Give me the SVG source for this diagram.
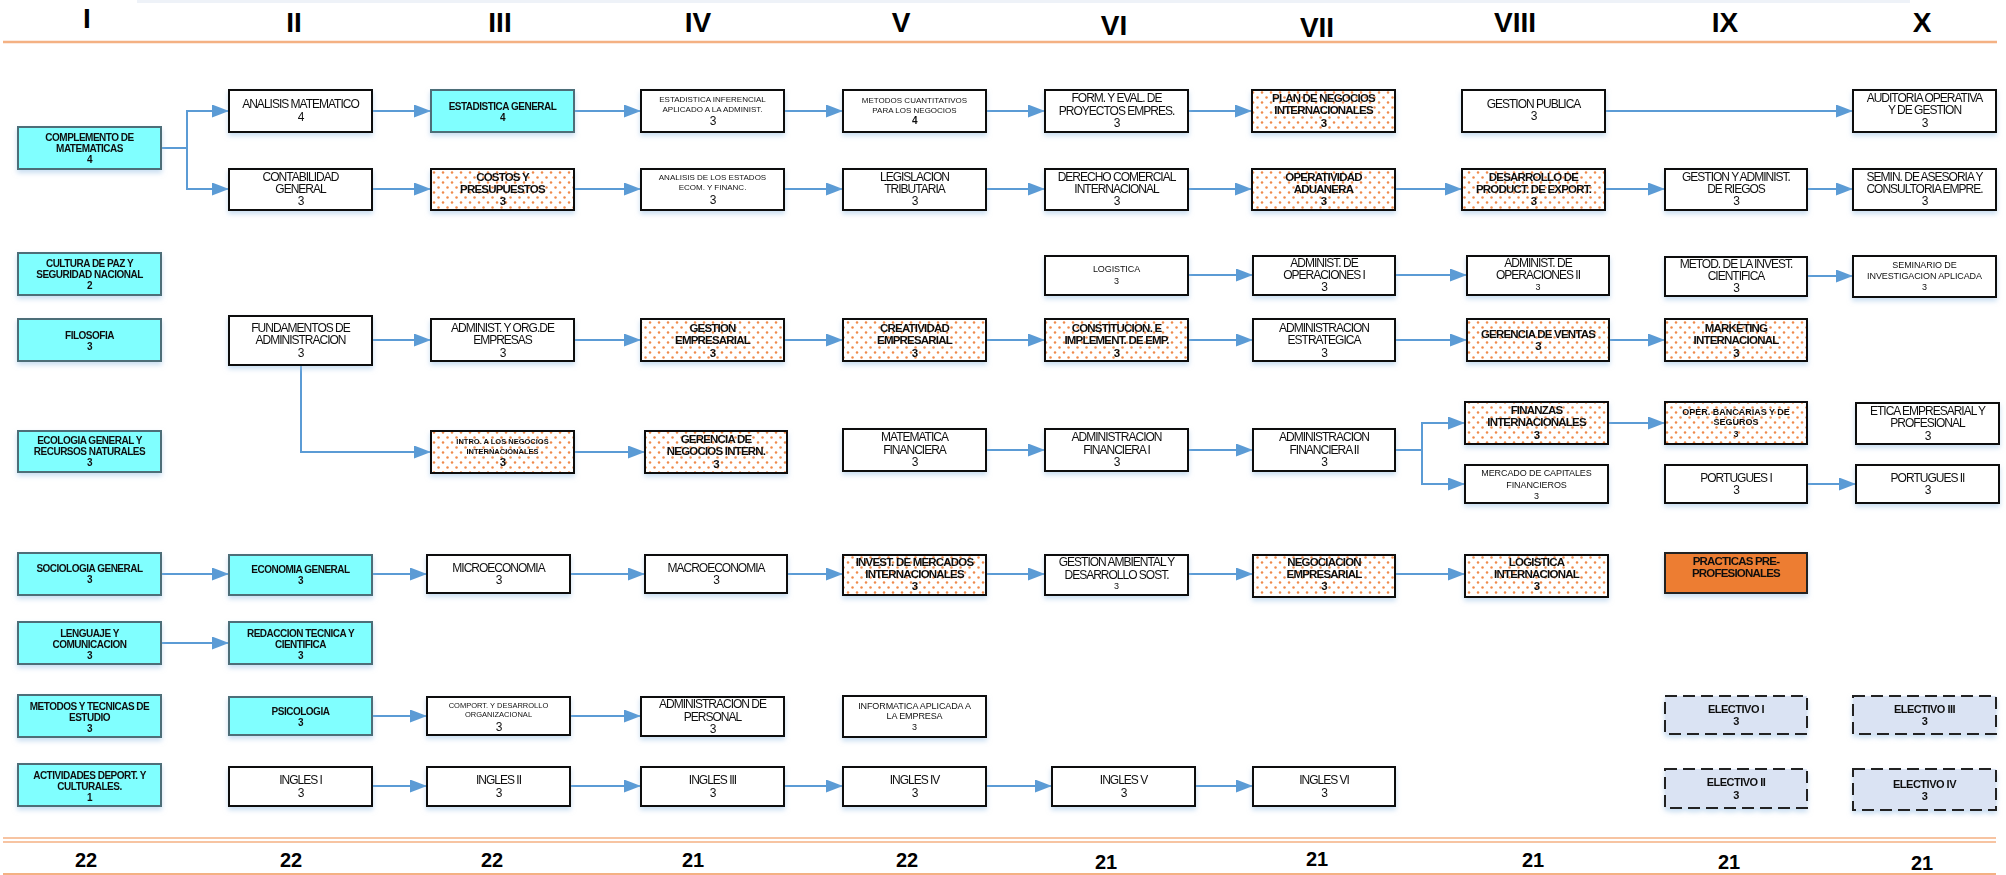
<svg xmlns="http://www.w3.org/2000/svg" width="2006" height="875" viewBox="0 0 2006 875">
<defs>
<style>
text{font-family:"Liberation Sans",Arial,sans-serif;text-anchor:middle;dominant-baseline:central;fill:#111}
.node{filter:url(#sh)}
.node rect{stroke-width:2}
.cy rect{fill:#80FFFF;stroke:#4E6E78}
.wh rect{fill:#fff;stroke:#111}
.dt rect{fill:url(#dots);stroke:#111}
.pr rect{fill:#ED7D31;stroke:#222}
.el rect{fill:#DAE3F3;stroke:#222;stroke-dasharray:12 6}
.r{font-size:12px;letter-spacing:-1px}
.s{font-size:8px}
.m{font-size:9px;letter-spacing:-0.1px}
.xs{font-size:7.5px}
.xsb{font-size:7.5px;font-weight:bold}
.bs{font-size:9px;font-weight:bold}
.b{font-size:10px;font-weight:bold;letter-spacing:-0.5px}
.bd{font-size:11.5px;font-weight:bold;letter-spacing:-0.8px}
.be{font-size:11px;font-weight:bold;letter-spacing:-0.5px}
.hd{font-size:28px;font-weight:bold;fill:#000}
.tot{font-size:20px;font-weight:bold;fill:#000}
.rule{stroke:#F4B183;fill:none}
.conn path{fill:none;stroke:#5B9BD5;stroke-width:2;marker-end:url(#arr)}
</style>
<pattern id="dots" patternUnits="userSpaceOnUse" width="9" height="10">
<rect width="9" height="10" fill="#fff"/>
<circle cx="2" cy="2.5" r="1.25" fill="#F08A4B"/>
<circle cx="6.5" cy="7.5" r="1.25" fill="#F08A4B"/>
</pattern>
<marker id="arr" markerUnits="userSpaceOnUse" markerWidth="17" markerHeight="13" refX="17" refY="6.5" orient="auto" viewBox="0 0 17 13">
<path d="M0,0 L17,6.5 L0,13 z" fill="#5B9BD5"/>
</marker>
<filter id="sh" x="-10%" y="-20%" width="120%" height="160%">
<feDropShadow dx="0" dy="3" stdDeviation="2.5" flood-color="#9DC3E6" flood-opacity="0.55"/>
</filter>
</defs>
<rect width="2006" height="875" fill="#fff"/>
<rect x="137" y="0" width="1773" height="3" fill="#eef2f8"/>

<g id="headers">
<text class="hd" x="87" y="18">I</text>
<text class="hd" x="294" y="22">II</text>
<text class="hd" x="500" y="22">III</text>
<text class="hd" x="698" y="22">IV</text>
<text class="hd" x="901" y="22">V</text>
<text class="hd" x="1114" y="25">VI</text>
<text class="hd" x="1317" y="27">VII</text>
<text class="hd" x="1515" y="22">VIII</text>
<text class="hd" x="1725" y="22">IX</text>
<text class="hd" x="1922" y="22">X</text>
</g>
<g id="rules">
<line class="rule" x1="3" y1="42" x2="1997" y2="42" stroke-width="2.5"/>
<line class="rule" x1="3" y1="838" x2="1996" y2="838" stroke-width="1.5"/>
<line class="rule" x1="3" y1="842" x2="1996" y2="842" stroke-width="1.5"/>
<line class="rule" x1="3" y1="874" x2="1996" y2="874" stroke-width="2"/>
</g>
<g id="totals">
<text class="tot" x="86" y="860">22</text>
<text class="tot" x="291" y="860">22</text>
<text class="tot" x="492" y="860">22</text>
<text class="tot" x="693" y="860">21</text>
<text class="tot" x="907" y="860">22</text>
<text class="tot" x="1106" y="862">21</text>
<text class="tot" x="1317" y="859">21</text>
<text class="tot" x="1533" y="860">21</text>
<text class="tot" x="1729" y="862">21</text>
<text class="tot" x="1922" y="863">21</text>
</g>

<g id="connectors" class="conn">
<path d="M161,148 H187 V111 H229"/>
<path d="M161,148 H187 V189 H229"/>
<path d="M372,111 H431"/>
<path d="M574,111 H641"/>
<path d="M784,111 H843"/>
<path d="M986,111 H1045"/>
<path d="M1188,111 H1252"/>
<path d="M1605,111 H1853"/>
<path d="M372,189 H431"/>
<path d="M574,189 H641"/>
<path d="M784,189 H843"/>
<path d="M986,189 H1045"/>
<path d="M1188,189 H1252"/>
<path d="M1395,189 H1462"/>
<path d="M1605,189 H1665"/>
<path d="M1807,189 H1853"/>
<path d="M1188,275 H1253"/>
<path d="M1395,275 H1467"/>
<path d="M1807,276 H1853"/>
<path d="M372,340 H431"/>
<path d="M574,340 H641"/>
<path d="M784,340 H843"/>
<path d="M986,340 H1045"/>
<path d="M1188,340 H1253"/>
<path d="M1395,340 H1467"/>
<path d="M1609,340 H1665"/>
<path d="M301,365 V452 H431"/>
<path d="M574,452 H645"/>
<path d="M986,450 H1045"/>
<path d="M1188,450 H1253"/>
<path d="M1395,450 H1422 V423 H1465"/>
<path d="M1395,450 H1422 V484 H1465"/>
<path d="M1608,423 H1665"/>
<path d="M1807,484 H1856"/>
<path d="M161,574 H229"/>
<path d="M372,574 H427"/>
<path d="M570,574 H645"/>
<path d="M787,574 H843"/>
<path d="M986,574 H1045"/>
<path d="M1188,574 H1253"/>
<path d="M1395,574 H1465"/>
<path d="M161,643 H229"/>
<path d="M372,716 H427"/>
<path d="M570,716 H641"/>
<path d="M372,786 H427"/>
<path d="M570,786 H641"/>
<path d="M784,786 H843"/>
<path d="M986,786 H1052"/>
<path d="M1195,786 H1253"/>
</g>

<g id="n01" class="node cy"><rect x="18" y="127" width="143" height="42"/><text class="b"><tspan x="89.5" y="137">COMPLEMENTO DE</tspan><tspan x="89.5" y="148">MATEMATICAS</tspan><tspan x="89.5" y="159">4</tspan></text></g>
<g id="n02" class="node cy"><rect x="18" y="253" width="143" height="42"/><text class="b"><tspan x="89.5" y="263">CULTURA DE PAZ Y</tspan><tspan x="89.5" y="274">SEGURIDAD NACIONAL</tspan><tspan x="89.5" y="285">2</tspan></text></g>
<g id="n03" class="node cy"><rect x="18" y="319" width="143" height="42"/><text class="b"><tspan x="89.5" y="335">FILOSOFIA</tspan><tspan x="89.5" y="346">3</tspan></text></g>
<g id="n04" class="node cy"><rect x="18" y="431" width="143" height="41"/><text class="b"><tspan x="89.5" y="440">ECOLOGIA GENERAL Y</tspan><tspan x="89.5" y="451">RECURSOS NATURALES</tspan><tspan x="89.5" y="462">3</tspan></text></g>
<g id="n05" class="node cy"><rect x="18" y="553" width="143" height="42"/><text class="b"><tspan x="89.5" y="568">SOCIOLOGIA GENERAL</tspan><tspan x="89.5" y="579">3</tspan></text></g>
<g id="n06" class="node cy"><rect x="18" y="622" width="143" height="42"/><text class="b"><tspan x="89.5" y="633">LENGUAJE Y</tspan><tspan x="89.5" y="644">COMUNICACION</tspan><tspan x="89.5" y="655">3</tspan></text></g>
<g id="n07" class="node cy"><rect x="18" y="695" width="143" height="42"/><text class="b"><tspan x="89.5" y="706">METODOS Y TECNICAS DE</tspan><tspan x="89.5" y="717">ESTUDIO</tspan><tspan x="89.5" y="728">3</tspan></text></g>
<g id="n08" class="node cy"><rect x="18" y="764" width="143" height="42"/><text class="b"><tspan x="89.5" y="775">ACTIVIDADES DEPORT. Y</tspan><tspan x="89.5" y="786">CULTURALES.</tspan><tspan x="89.5" y="797">1</tspan></text></g>

<g id="n09" class="node wh"><rect x="229" y="90" width="143" height="42"/><text class="r"><tspan x="300.5" y="104">ANALISIS MATEMATICO</tspan><tspan x="300.5" y="117">4</tspan></text></g>
<g id="n10" class="node wh"><rect x="229" y="169" width="143" height="41"/><text class="r"><tspan x="300.5" y="177">CONTABILIDAD</tspan><tspan x="300.5" y="189">GENERAL</tspan><tspan x="300.5" y="201">3</tspan></text></g>
<g id="n11" class="node wh"><rect x="229" y="316" width="143" height="49"/><text class="r"><tspan x="300.5" y="328">FUNDAMENTOS DE</tspan><tspan x="300.5" y="340">ADMINISTRACION</tspan><tspan x="300.5" y="353">3</tspan></text></g>
<g id="n12" class="node cy"><rect x="229" y="555" width="143" height="40"/><text class="b"><tspan x="300.5" y="569">ECONOMIA GENERAL</tspan><tspan x="300.5" y="580">3</tspan></text></g>
<g id="n13" class="node cy"><rect x="229" y="622" width="143" height="42"/><text class="b"><tspan x="300.5" y="633">REDACCION TECNICA Y</tspan><tspan x="300.5" y="644">CIENTIFICA</tspan><tspan x="300.5" y="655">3</tspan></text></g>
<g id="n14" class="node cy"><rect x="229" y="697" width="143" height="38"/><text class="b"><tspan x="300.5" y="711">PSICOLOGIA</tspan><tspan x="300.5" y="722">3</tspan></text></g>
<g id="n15" class="node wh"><rect x="229" y="767" width="143" height="39"/><text class="r"><tspan x="300.5" y="780">INGLES I</tspan><tspan x="300.5" y="793">3</tspan></text></g>

<g id="n16" class="node cy"><rect x="431" y="90" width="143" height="42"/><text class="b"><tspan x="502.5" y="106">ESTADISTICA GENERAL</tspan><tspan x="502.5" y="117">4</tspan></text></g>
<g id="n17" class="node dt"><rect x="431" y="169" width="143" height="41"/><text class="bd"><tspan x="502.5" y="177">COSTOS Y</tspan><tspan x="502.5" y="189">PRESUPUESTOS</tspan><tspan x="502.5" y="201">3</tspan></text></g>
<g id="n18" class="node wh"><rect x="431" y="319" width="143" height="42"/><text class="r"><tspan x="502.5" y="328">ADMINIST. Y ORG.DE</tspan><tspan x="502.5" y="340">EMPRESAS</tspan><tspan x="502.5" y="353">3</tspan></text></g>
<g id="n19" class="node dt"><rect x="431" y="431" width="143" height="42"/><text class="xsb"><tspan x="502.5" y="441">INTRO. A LOS NEGOCIOS</tspan><tspan x="502.5" y="451">INTERNACIONALES</tspan><tspan x="502.5" y="462" class="bd">3</tspan></text></g>
<g id="n20" class="node wh"><rect x="427" y="555" width="143" height="38"/><text class="r"><tspan x="498.5" y="568">MICROECONOMIA</tspan><tspan x="498.5" y="580">3</tspan></text></g>
<g id="n21" class="node wh"><rect x="427" y="697" width="143" height="38"/><text class="xs"><tspan x="498.5" y="705">COMPORT. Y DESARROLLO</tspan><tspan x="498.5" y="714">ORGANIZACIONAL</tspan><tspan x="498.5" y="727" class="r">3</tspan></text></g>
<g id="n22" class="node wh"><rect x="427" y="767" width="143" height="39"/><text class="r"><tspan x="498.5" y="780">INGLES II</tspan><tspan x="498.5" y="793">3</tspan></text></g>

<g id="n23" class="node wh"><rect x="641" y="90" width="143" height="42"/><text class="s"><tspan x="712.5" y="99">ESTADISTICA INFERENCIAL</tspan><tspan x="712.5" y="109">APLICADO A LA ADMINIST.</tspan><tspan x="712.5" y="121" class="r">3</tspan></text></g>
<g id="n24" class="node wh"><rect x="641" y="169" width="143" height="41"/><text class="s"><tspan x="712.5" y="177">ANALISIS DE LOS ESTADOS</tspan><tspan x="712.5" y="187">ECOM. Y FINANC.</tspan><tspan x="712.5" y="200" class="r">3</tspan></text></g>
<g id="n25" class="node dt"><rect x="641" y="319" width="143" height="42"/><text class="bd"><tspan x="712.5" y="328">GESTION</tspan><tspan x="712.5" y="340">EMPRESARIAL</tspan><tspan x="712.5" y="353">3</tspan></text></g>
<g id="n26" class="node dt"><rect x="645" y="431" width="142" height="42"/><text class="bd"><tspan x="716" y="439">GERENCIA DE</tspan><tspan x="716" y="451">NEGOCIOS INTERN.</tspan><tspan x="716" y="464">3</tspan></text></g>
<g id="n27" class="node wh"><rect x="645" y="555" width="142" height="38"/><text class="r"><tspan x="716" y="568">MACROECONOMIA</tspan><tspan x="716" y="580">3</tspan></text></g>
<g id="n28" class="node wh"><rect x="641" y="697" width="143" height="39"/><text class="r"><tspan x="712.5" y="704">ADMINISTRACION DE</tspan><tspan x="712.5" y="717">PERSONAL</tspan><tspan x="712.5" y="729">3</tspan></text></g>
<g id="n29" class="node wh"><rect x="641" y="767" width="143" height="39"/><text class="r"><tspan x="712.5" y="780">INGLES III</tspan><tspan x="712.5" y="793">3</tspan></text></g>

<g id="n30" class="node wh"><rect x="843" y="90" width="143" height="42"/><text class="s"><tspan x="914.5" y="100">METODOS CUANTITATIVOS</tspan><tspan x="914.5" y="110">PARA LOS NEGOCIOS</tspan><tspan x="914.5" y="120" class="b">4</tspan></text></g>
<g id="n31" class="node wh"><rect x="843" y="169" width="143" height="41"/><text class="r"><tspan x="914.5" y="177">LEGISLACION</tspan><tspan x="914.5" y="189">TRIBUTARIA</tspan><tspan x="914.5" y="201">3</tspan></text></g>
<g id="n32" class="node dt"><rect x="843" y="319" width="143" height="42"/><text class="bd"><tspan x="914.5" y="328">CREATIVIDAD</tspan><tspan x="914.5" y="340">EMPRESARIAL</tspan><tspan x="914.5" y="353">3</tspan></text></g>
<g id="n33" class="node wh"><rect x="843" y="429" width="143" height="42"/><text class="r"><tspan x="914.5" y="437">MATEMATICA</tspan><tspan x="914.5" y="450">FINANCIERA</tspan><tspan x="914.5" y="462">3</tspan></text></g>
<g id="n34" class="node dt"><rect x="843" y="555" width="143" height="40"/><text class="bd"><tspan x="914.5" y="562">INVEST. DE MERCADOS</tspan><tspan x="914.5" y="574">INTERNACIONALES</tspan><tspan x="914.5" y="586">3</tspan></text></g>
<g id="n35" class="node wh"><rect x="843" y="696" width="143" height="41"/><text class="m"><tspan x="914.5" y="706">INFORMATICA APLICADA A</tspan><tspan x="914.5" y="716">LA EMPRESA</tspan><tspan x="914.5" y="727">3</tspan></text></g>
<g id="n36" class="node wh"><rect x="843" y="767" width="143" height="39"/><text class="r"><tspan x="914.5" y="780">INGLES IV</tspan><tspan x="914.5" y="793">3</tspan></text></g>

<g id="n37" class="node wh"><rect x="1045" y="90" width="143" height="42"/><text class="r"><tspan x="1116.5" y="98">FORM. Y EVAL. DE</tspan><tspan x="1116.5" y="111">PROYECTOS EMPRES.</tspan><tspan x="1116.5" y="123">3</tspan></text></g>
<g id="n38" class="node wh"><rect x="1045" y="169" width="143" height="41"/><text class="r"><tspan x="1116.5" y="177">DERECHO COMERCIAL</tspan><tspan x="1116.5" y="189">INTERNACIONAL</tspan><tspan x="1116.5" y="201">3</tspan></text></g>
<g id="n39" class="node wh"><rect x="1045" y="256" width="143" height="39"/><text class="m"><tspan x="1116.5" y="269">LOGISTICA</tspan><tspan x="1116.5" y="281">3</tspan></text></g>
<g id="n40" class="node dt"><rect x="1045" y="319" width="143" height="42"/><text class="bd"><tspan x="1116.5" y="328">CONSTITUCION. E</tspan><tspan x="1116.5" y="340">IMPLEMENT. DE EMP.</tspan><tspan x="1116.5" y="353">3</tspan></text></g>
<g id="n41" class="node wh"><rect x="1045" y="429" width="143" height="42"/><text class="r"><tspan x="1116.5" y="437">ADMINISTRACION</tspan><tspan x="1116.5" y="450">FINANCIERA I</tspan><tspan x="1116.5" y="462">3</tspan></text></g>
<g id="n42" class="node wh"><rect x="1045" y="555" width="143" height="40"/><text class="r"><tspan x="1116.5" y="562">GESTION AMBIENTAL Y</tspan><tspan x="1116.5" y="575">DESARROLLO SOST.</tspan><tspan x="1116.5" y="586" class="m">3</tspan></text></g>
<g id="n43" class="node wh"><rect x="1052" y="767" width="143" height="39"/><text class="r"><tspan x="1123.5" y="780">INGLES V</tspan><tspan x="1123.5" y="793">3</tspan></text></g>

<g id="n44" class="node dt"><rect x="1252" y="90" width="143" height="42"/><text class="bd"><tspan x="1323.5" y="98">PLAN DE NEGOCIOS</tspan><tspan x="1323.5" y="110">INTERNACIONALES</tspan><tspan x="1323.5" y="123">3</tspan></text></g>
<g id="n45" class="node dt"><rect x="1252" y="169" width="143" height="41"/><text class="bd"><tspan x="1323.5" y="177">OPERATIVIDAD</tspan><tspan x="1323.5" y="189">ADUANERA</tspan><tspan x="1323.5" y="201">3</tspan></text></g>
<g id="n46" class="node wh"><rect x="1253" y="256" width="142" height="39"/><text class="r"><tspan x="1324" y="263">ADMINIST. DE</tspan><tspan x="1324" y="275">OPERACIONES I</tspan><tspan x="1324" y="287">3</tspan></text></g>
<g id="n47" class="node wh"><rect x="1253" y="319" width="142" height="42"/><text class="r"><tspan x="1324" y="328">ADMINISTRACION</tspan><tspan x="1324" y="340">ESTRATEGICA</tspan><tspan x="1324" y="353">3</tspan></text></g>
<g id="n48" class="node wh"><rect x="1253" y="429" width="142" height="42"/><text class="r"><tspan x="1324" y="437">ADMINISTRACION</tspan><tspan x="1324" y="450">FINANCIERA II</tspan><tspan x="1324" y="462">3</tspan></text></g>
<g id="n49" class="node dt"><rect x="1253" y="555" width="142" height="42"/><text class="bd"><tspan x="1324" y="562">NEGOCIACION</tspan><tspan x="1324" y="574">EMPRESARIAL</tspan><tspan x="1324" y="586">3</tspan></text></g>
<g id="n50" class="node wh"><rect x="1253" y="767" width="142" height="39"/><text class="r"><tspan x="1324" y="780">INGLES VI</tspan><tspan x="1324" y="793">3</tspan></text></g>

<g id="n51" class="node wh"><rect x="1462" y="90" width="143" height="42"/><text class="r"><tspan x="1533.5" y="104">GESTION PUBLICA</tspan><tspan x="1533.5" y="116">3</tspan></text></g>
<g id="n52" class="node dt"><rect x="1462" y="169" width="143" height="41"/><text class="bd"><tspan x="1533.5" y="177">DESARROLLO DE</tspan><tspan x="1533.5" y="189">PRODUCT. DE EXPORT.</tspan><tspan x="1533.5" y="201">3</tspan></text></g>
<g id="n53" class="node wh"><rect x="1467" y="256" width="142" height="39"/><text class="r"><tspan x="1538" y="263">ADMINIST. DE</tspan><tspan x="1538" y="275">OPERACIONES II</tspan><tspan x="1538" y="287" class="m">3</tspan></text></g>
<g id="n54" class="node dt"><rect x="1467" y="319" width="142" height="42"/><text class="bd"><tspan x="1538" y="334">GERENCIA DE VENTAS</tspan><tspan x="1538" y="346">3</tspan></text></g>
<g id="n55" class="node dt"><rect x="1465" y="402" width="143" height="42"/><text class="bd"><tspan x="1536.5" y="410">FINANZAS</tspan><tspan x="1536.5" y="422">INTERNACIONALES</tspan><tspan x="1536.5" y="435">3</tspan></text></g>
<g id="n56" class="node wh"><rect x="1465" y="465" width="143" height="38"/><text class="m"><tspan x="1536.5" y="473">MERCADO DE CAPITALES</tspan><tspan x="1536.5" y="485">FINANCIEROS</tspan><tspan x="1536.5" y="496">3</tspan></text></g>
<g id="n57" class="node dt"><rect x="1465" y="555" width="143" height="42"/><text class="bd"><tspan x="1536.5" y="562">LOGISTICA</tspan><tspan x="1536.5" y="574">INTERNACIONAL</tspan><tspan x="1536.5" y="586">3</tspan></text></g>

<g id="n58" class="node wh"><rect x="1665" y="169" width="142" height="41"/><text class="r"><tspan x="1736" y="177">GESTION Y ADMINIST.</tspan><tspan x="1736" y="189">DE RIEGOS</tspan><tspan x="1736" y="201">3</tspan></text></g>
<g id="n59" class="node wh"><rect x="1665" y="257" width="142" height="39"/><text class="r"><tspan x="1736" y="264">METOD. DE LA INVEST.</tspan><tspan x="1736" y="276">CIENTIFICA</tspan><tspan x="1736" y="288">3</tspan></text></g>
<g id="n60" class="node dt"><rect x="1665" y="319" width="142" height="42"/><text class="bd"><tspan x="1736" y="328">MARKETING</tspan><tspan x="1736" y="340">INTERNACIONAL</tspan><tspan x="1736" y="353">3</tspan></text></g>
<g id="n61" class="node dt"><rect x="1665" y="402" width="142" height="42"/><text class="bs"><tspan x="1736" y="412">OPER. BANCARIAS Y DE</tspan><tspan x="1736" y="422">SEGUROS</tspan><tspan x="1736" y="434">3</tspan></text></g>
<g id="n62" class="node wh"><rect x="1665" y="465" width="142" height="38"/><text class="r"><tspan x="1736" y="478">PORTUGUES I</tspan><tspan x="1736" y="490">3</tspan></text></g>
<g id="n63" class="node pr"><rect x="1665" y="553" width="142" height="40"/><text class="bd"><tspan x="1736" y="561">PRACTICAS PRE-</tspan><tspan x="1736" y="573">PROFESIONALES</tspan></text></g>
<g id="n64" class="node el"><rect x="1665" y="696" width="142" height="38"/><text class="be"><tspan x="1736" y="709">ELECTIVO I</tspan><tspan x="1736" y="721">3</tspan></text></g>
<g id="n65" class="node el"><rect x="1665" y="769" width="142" height="39"/><text class="be"><tspan x="1736" y="782">ELECTIVO II</tspan><tspan x="1736" y="795">3</tspan></text></g>

<g id="n66" class="node wh"><rect x="1853" y="90" width="143" height="42"/><text class="r"><tspan x="1924.5" y="98">AUDITORIA OPERATIVA</tspan><tspan x="1924.5" y="110">Y DE GESTION</tspan><tspan x="1924.5" y="123">3</tspan></text></g>
<g id="n67" class="node wh"><rect x="1853" y="169" width="143" height="41"/><text class="r"><tspan x="1924.5" y="177">SEMIN. DE ASESORIA Y</tspan><tspan x="1924.5" y="189">CONSULTORIA EMPRE.</tspan><tspan x="1924.5" y="201">3</tspan></text></g>
<g id="n68" class="node wh"><rect x="1853" y="256" width="143" height="41"/><text class="m"><tspan x="1924.5" y="265">SEMINARIO DE</tspan><tspan x="1924.5" y="276">INVESTIGACION APLICADA</tspan><tspan x="1924.5" y="287">3</tspan></text></g>
<g id="n69" class="node wh"><rect x="1856" y="403" width="143" height="41"/><text class="r"><tspan x="1927.5" y="411">ETICA EMPRESARIAL Y</tspan><tspan x="1927.5" y="423">PROFESIONAL</tspan><tspan x="1927.5" y="436">3</tspan></text></g>
<g id="n70" class="node wh"><rect x="1856" y="465" width="143" height="38"/><text class="r"><tspan x="1927.5" y="478">PORTUGUES II</tspan><tspan x="1927.5" y="490">3</tspan></text></g>
<g id="n71" class="node el"><rect x="1853" y="696" width="143" height="38"/><text class="be"><tspan x="1924.5" y="709">ELECTIVO III</tspan><tspan x="1924.5" y="721">3</tspan></text></g>
<g id="n72" class="node el"><rect x="1853" y="769" width="143" height="41"/><text class="be"><tspan x="1924.5" y="784">ELECTIVO IV</tspan><tspan x="1924.5" y="796">3</tspan></text></g>
</svg>
